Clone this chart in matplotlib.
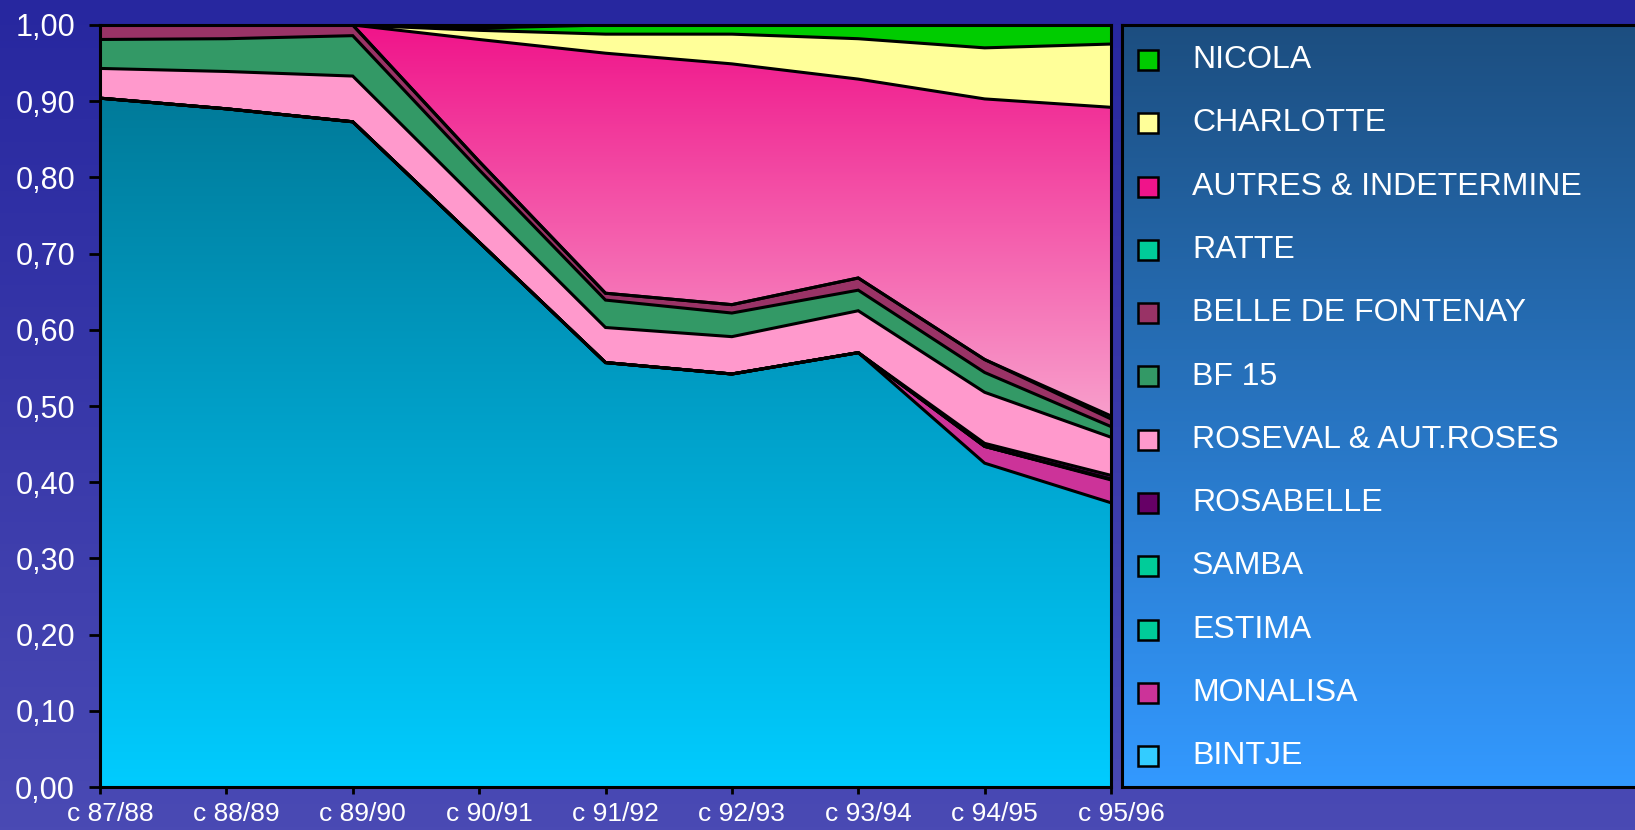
import numpy as np
import matplotlib
matplotlib.use('Agg')
import matplotlib.pyplot as plt
import matplotlib.transforms as mtransforms
from matplotlib.colors import LinearSegmentedColormap
from matplotlib.patches import Rectangle

plt.rcParams['font.family'] = ['Liberation Sans', 'DejaVu Sans']

seasons = ['c 87/88', 'c 88/89', 'c 89/90', 'c 90/91', 'c 91/92',
           'c 92/93', 'c 93/94', 'c 94/95', 'c 95/96']

# shares per variety (bottom of the stack first)
bintje     = [0.904, 0.890, 0.873, 0.715, 0.557, 0.542, 0.570, 0.425, 0.373]
monalisa   = [0.000, 0.000, 0.000, 0.000, 0.000, 0.000, 0.000, 0.022, 0.030]
estima     = [0.000, 0.000, 0.000, 0.000, 0.000, 0.000, 0.000, 0.000, 0.001]
samba      = [0.000, 0.000, 0.000, 0.000, 0.000, 0.000, 0.000, 0.000, 0.000]
rosabelle  = [0.000, 0.000, 0.000, 0.000, 0.000, 0.000, 0.000, 0.004, 0.005]
roseval    = [0.039, 0.049, 0.060, 0.053, 0.046, 0.049, 0.055, 0.067, 0.050]
bf15       = [0.038, 0.043, 0.053, 0.042, 0.036, 0.031, 0.027, 0.026, 0.014]
belle_font = [0.019, 0.018, 0.014, 0.011, 0.009, 0.011, 0.016, 0.017, 0.010]
ratte      = [0.000, 0.000, 0.000, 0.000, 0.000, 0.000, 0.000, 0.000, 0.004]
autres     = [0.000, 0.000, 0.000, 0.160, 0.315, 0.316, 0.261, 0.342, 0.405]
charlotte  = [0.000, 0.000, 0.000, 0.012, 0.025, 0.039, 0.053, 0.067, 0.083]
nicola     = [0.000, 0.000, 0.000, 0.003, 0.012, 0.012, 0.018, 0.030, 0.026]

names = ['BINTJE', 'MONALISA', 'ESTIMA', 'SAMBA', 'ROSABELLE',
         'ROSEVAL & AUT.ROSES', 'BF 15', 'BELLE DE FONTENAY', 'RATTE',
         'AUTRES & INDETERMINE', 'CHARLOTTE', 'NICOLA']
values = [bintje, monalisa, estima, samba, rosabelle, roseval, bf15,
          belle_font, ratte, autres, charlotte, nicola]
colors = ['#33ccff', '#cc3399', '#00cc99', '#00cc99', '#660066', '#ff99cc',
          '#339966', '#993366', '#00cc99', '#f0148a', '#ffff99', '#00cc00']

# vertical gradients used inside two of the areas: (color at ylo, color at yhi, ylo, yhi)
gradients = {
    'BINTJE': ('#00ccff', '#007a99', 0.0, 0.91),
    'AUTRES & INDETERMINE': ('#f8a0cc', '#f0148a', 0.48, 1.0),
}

W, H = 1635, 830
fig = plt.figure(figsize=(W / 100, H / 100), dpi=100)

# background gradient
bg = fig.add_axes([0, 0, 1, 1], zorder=-10)
bg_cmap = LinearSegmentedColormap.from_list('bg', ['#4a4ab4', '#27279f'])
bg.imshow(np.linspace(0, 1, 256).reshape(-1, 1), aspect='auto', cmap=bg_cmap,
          origin='lower', extent=[0, 1, 0, 1])
bg.axis('off')

ax_l, ax_r, ax_t, ax_b = 100, 1111, 25, 787
ax = fig.add_axes([ax_l / W, 1 - ax_b / H, (ax_r - ax_l) / W, (ax_b - ax_t) / H])

x = np.arange(len(seasons))
bottom = np.zeros(len(seasons))
for name, vals, col in zip(names, values, colors):
    top = bottom + np.array(vals)
    poly = ax.fill_between(x, bottom, top, facecolor=col, edgecolor='none', zorder=1)
    if name in gradients:
        c0, c1, ylo, yhi = gradients[name]
        cmap = LinearSegmentedColormap.from_list(name, [c0, c1])
        im = ax.imshow(np.linspace(0, 1, 256).reshape(-1, 1), aspect='auto',
                       cmap=cmap, origin='lower', extent=[0, 8, ylo, yhi], zorder=1.5)
        im.set_clip_path(poly.get_paths()[0], ax.transData)
    ax.plot(x, top, color='black', lw=2.2, zorder=3, solid_joinstyle='miter')
    bottom = top

ax.set_xlim(0, len(seasons) - 1)
ax.set_ylim(0, 1)
ax.set_facecolor('none')
for s in ax.spines.values():
    s.set_color('black')
    s.set_linewidth(2.2)
    s.set_zorder(4)

yt = np.round(np.arange(0, 1.01, 0.1), 2)
ax.set_yticks(yt)
ax.set_yticklabels([f'{v:.2f}'.replace('.', ',') for v in yt])
ax.set_xticks(x)
ax.set_xticklabels(seasons)
ax.tick_params(axis='y', direction='out', length=8, width=2, color='black',
               labelcolor='white', labelsize=22, pad=10)
ax.tick_params(axis='x', direction='out', length=5, width=2, color='black',
               labelcolor='white', labelsize=19, pad=6)
off = mtransforms.ScaledTranslation(0.10, 0, fig.dpi_scale_trans)
for lab in ax.get_xticklabels():
    lab.set_transform(lab.get_transform() + off)

# legend box
lg_l, lg_r = 1122, 1645
lg = fig.add_axes([lg_l / W, 1 - ax_b / H, (lg_r - lg_l) / W, (ax_b - ax_t) / H])
lg_cmap = LinearSegmentedColormap.from_list('lg', ['#3399ff', '#1c4e80'])
lg.imshow(np.linspace(0, 1, 256).reshape(-1, 1), aspect='auto', cmap=lg_cmap,
          origin='lower', extent=[0, lg_r - lg_l, ax_b - ax_t, 0])
lg.set_xlim(0, lg_r - lg_l)
lg.set_ylim(ax_b - ax_t, 0)
lg.set_xticks([])
lg.set_yticks([])
for s in lg.spines.values():
    s.set_color('black')
    s.set_linewidth(2.2)

for i, (name, col) in enumerate(zip(names[::-1], colors[::-1])):
    yc = 35 + i * 63.3
    lg.add_patch(Rectangle((26 - 10, yc - 10), 20, 20, facecolor=col,
                           edgecolor='black', lw=1.8, zorder=3))
    lg.text(70, yc, name, color='white', fontsize=23, va='center', ha='left')

fig.savefig('out.png', dpi=100)
